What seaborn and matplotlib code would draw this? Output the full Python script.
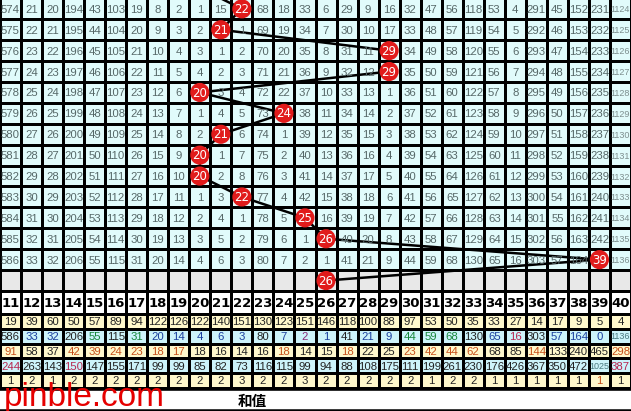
import numpy as np
import matplotlib
matplotlib.use("Agg")
import matplotlib.pyplot as plt
from matplotlib.colors import ListedColormap
from matplotlib.lines import Line2D
import seaborn as sns

# ---- data ----
numbers = list(range(11, 41))

# omission counts per period (top -> bottom), 0 = number drawn in that period
omit_rows = [
    [574, 21, 20, 194, 43, 103, 19, 8, 2, 1, 15, 0, 68, 18, 33, 6, 29, 9, 16, 32, 47, 56, 118, 53, 4, 291, 45, 152, 231, 1124],
    [575, 22, 21, 195, 44, 104, 20, 9, 3, 2, 0, 1, 69, 19, 34, 7, 30, 10, 17, 33, 48, 57, 119, 54, 5, 292, 46, 153, 232, 1125],
    [576, 23, 22, 196, 45, 105, 21, 10, 4, 3, 1, 2, 70, 20, 35, 8, 31, 11, 0, 34, 49, 58, 120, 55, 6, 293, 47, 154, 233, 1126],
    [577, 24, 23, 197, 46, 106, 22, 11, 5, 4, 2, 3, 71, 21, 36, 9, 32, 12, 0, 35, 50, 59, 121, 56, 7, 294, 48, 155, 234, 1127],
    [578, 25, 24, 198, 47, 107, 23, 12, 6, 0, 3, 4, 72, 22, 37, 10, 33, 13, 1, 36, 51, 60, 122, 57, 8, 295, 49, 156, 235, 1128],
    [579, 26, 25, 199, 48, 108, 24, 13, 7, 1, 4, 5, 73, 0, 38, 11, 34, 14, 2, 37, 52, 61, 123, 58, 9, 296, 50, 157, 236, 1129],
    [580, 27, 26, 200, 49, 109, 25, 14, 8, 2, 0, 6, 74, 1, 39, 12, 35, 15, 3, 38, 53, 62, 124, 59, 10, 297, 51, 158, 237, 1130],
    [581, 28, 27, 201, 50, 110, 26, 15, 9, 0, 1, 7, 75, 2, 40, 13, 36, 16, 4, 39, 54, 63, 125, 60, 11, 298, 52, 159, 238, 1131],
    [582, 29, 28, 202, 51, 111, 27, 16, 10, 0, 2, 8, 76, 3, 41, 14, 37, 17, 5, 40, 55, 64, 126, 61, 12, 299, 53, 160, 239, 1132],
    [583, 30, 29, 203, 52, 112, 28, 17, 11, 1, 3, 0, 77, 4, 42, 15, 38, 18, 6, 41, 56, 65, 127, 62, 13, 300, 54, 161, 240, 1133],
    [584, 31, 30, 204, 53, 113, 29, 18, 12, 2, 4, 1, 78, 5, 0, 16, 39, 19, 7, 42, 57, 66, 128, 63, 14, 301, 55, 162, 241, 1134],
    [585, 32, 31, 205, 54, 114, 30, 19, 13, 3, 5, 2, 79, 6, 1, 0, 40, 20, 8, 43, 58, 67, 129, 64, 15, 302, 56, 163, 242, 1135],
    [586, 33, 32, 206, 55, 115, 31, 20, 14, 4, 6, 3, 80, 7, 2, 1, 41, 21, 9, 44, 59, 68, 130, 65, 16, 303, 57, 164, 0, 1136],
]
draw_nums = [22, 21, 29, 29, 20, 24, 21, 20, 20, 22, 25, 26, 39]
prev_num = 20      # previous period, off the top of the picture
forecast_num = 26  # grey row at the bottom

# statistics rows under the header
stat_appear = [19, 39, 60, 50, 57, 89, 94, 122, 126, 122, 140, 151, 130, 123, 151, 146, 118, 100, 88, 97, 53, 50, 35, 33, 27, 14, 17, 9, 5, 4]
stat_cur = [586, 33, 32, 206, 55, 115, 31, 20, 14, 4, 6, 3, 80, 7, 2, 1, 41, 21, 9, 44, 59, 68, 130, 65, 16, 303, 57, 164, 0, 1136]
stat_avg = [91, 58, 37, 42, 39, 24, 23, 18, 17, 18, 16, 14, 16, 18, 14, 15, 18, 22, 25, 23, 42, 44, 62, 68, 85, 144, 133, 240, 465, 298]
stat_max = [244, 263, 143, 150, 147, 155, 171, 99, 99, 85, 82, 73, 116, 115, 99, 94, 88, 108, 175, 111, 199, 261, 230, 176, 426, 367, 350, 472, 1025, 387]
stat_run = [1, 2, 1, 2, 2, 2, 2, 2, 2, 2, 2, 3, 2, 2, 3, 2, 2, 2, 2, 2, 1, 2, 2, 1, 1, 1, 1, 1, 1, 1]

# text colour codes for the stats rows
cur_cols = "kbbkgkgbbbbbkbpbkbbgggkbrkbbbt"
avg_cols = "okkooooookkkkokkokkooookkokkko"
max_cols = "rkkrkkkkkkkkkkkkkkkkkkkkkkkktr"
run_cols = "kkkkkkkkkkkkkkkkkkkkkkkkkkkkok"
palette = {"k": "#222222", "b": "#1b3f9e", "g": "#17873a", "r": "#b8264f",
           "p": "#8a2b7a", "o": "#c8501a", "t": "#4a7a80"}

W, H = 631, 411


def box(top, bottom):
    return [0, 1 - bottom / H, 1, (bottom - top) / H]


fig = plt.figure(figsize=(W / 100, H / 100), dpi=100)
fig.patch.set_facecolor("white")

# ---- main omission grid + forecast row ----
ax = fig.add_axes(box(-1.6, 291))
grid_bg = np.zeros((14, 30))
grid_bg[13, :] = 1
sns.heatmap(grid_bg, ax=ax, cmap=ListedColormap(["#E1FBFB", "#E8E8E8"]), vmin=0, vmax=1,
            cbar=False, linewidths=0.75, linecolor="black", xticklabels=False, yticklabels=False)

for r, row in enumerate(omit_rows):
    for c, v in enumerate(row):
        if v == 0:
            continue
        big = v >= 1000
        ax.text(c + 0.5, r + 0.55, str(v), ha="center", va="center",
                fontsize=6.5 if big else 8.2, color="#7d8e8e" if big else "#566868",
                family="Liberation Sans")

path_nums = [prev_num] + draw_nums + [forecast_num]
path_x = np.array(path_nums) - 11 + 0.5
path_y = np.arange(-1, len(draw_nums) + 1) + 0.5
sns.lineplot(x=path_x, y=path_y, sort=False, estimator=None, ax=ax,
             color="black", linewidth=1.8, zorder=2)

ball_nums = draw_nums + [forecast_num]
ball_x = np.array(ball_nums) - 11 + 0.5
ball_y = np.arange(len(ball_nums)) + 0.5
sns.scatterplot(x=ball_x, y=ball_y, s=190, color="#E11B1B", edgecolor="none", zorder=3, ax=ax)
for x, y, n in zip(ball_x, ball_y, ball_nums):
    ax.text(x, y + 0.03, str(n), ha="center", va="center", fontsize=8.5,
            color="white", zorder=4, family="DejaVu Sans")

ax.set_xlim(0, 30)
ax.set_ylim(14, 0)
ax.set_xlabel("")
ax.set_ylabel("")

# ---- header row ----
axh = fig.add_axes(box(291, 314))
sns.heatmap(np.zeros((1, 30)), ax=axh, cmap=ListedColormap(["white"]), cbar=False,
            linewidths=0.75, linecolor="black", xticklabels=False, yticklabels=False)
for c, n in enumerate(numbers):
    axh.text(c + 0.5, 0.55, str(n), ha="center", va="center", fontsize=9.5,
             fontweight="bold", color="black", family="DejaVu Sans")

# ---- stats rows ----
axs = fig.add_axes(box(314, 388))
stat_bg = np.array([[0], [1], [0], [1], [0]]) * np.ones((1, 30))
sns.heatmap(stat_bg, ax=axs, cmap=ListedColormap(["#FFF8CC", "#CDF3FA"]), vmin=0, vmax=1,
            cbar=False, linewidths=0.75, linecolor="black", xticklabels=False, yticklabels=False)
stat_rows = [(stat_appear, "k" * 30), (stat_cur, cur_cols), (stat_avg, avg_cols),
             (stat_max, max_cols), (stat_run, run_cols)]
for r, (vals, cols) in enumerate(stat_rows):
    for c, v in enumerate(vals):
        big = v >= 1000
        axs.text(c + 0.5, r + 0.55, str(v), ha="center", va="center",
                 fontsize=6.5 if big else 8.2, color=palette[cols[c]], family="Liberation Sans")

# thick rules
for y, lw in [(292, 1.4), (314, 1.8), (388.5, 2.6), (409.5, 1.8)]:
    fig.add_artist(Line2D([0, 1], [1 - y / H, 1 - y / H], color="black", linewidth=lw,
                          transform=fig.transFigure))

fig.text(252 / W, 1 - 401 / H, "和值", ha="center", va="center", fontsize=10.5,
         fontweight="bold", family=["Noto Sans CJK SC", "DejaVu Sans"])
fig.text(4 / W, 1 - 406 / H, "pinble.com", ha="left", va="baseline", fontsize=24,
         color="#E60000", family="Liberation Sans")

fig.savefig("out.png", dpi=100)
